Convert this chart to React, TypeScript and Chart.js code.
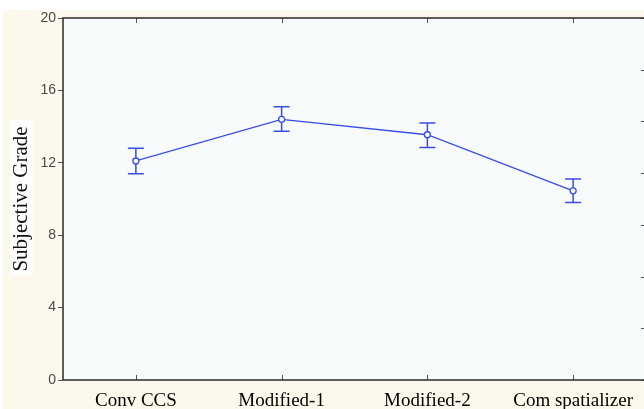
import React, { useEffect, useRef } from "react";
import { Chart, registerables } from "chart.js";

Chart.register(...registerables);

const categories = ["Conv CCS", "Modified-1", "Modified-2", "Com spatializer"];
const means = [12.1, 14.4, 13.55, 10.45];
const upper = [12.8, 15.1, 14.2, 11.1];
const lower = [11.4, 13.75, 12.85, 9.8];
const yMin = 0;
const yMax = 20;
const yStep = 4;

const CANVAS_W = 652;
const CANVAS_H = 409;
const BLUE = "#3a4de4";

const decorPlugin = {
  id: "decor",
  beforeDraw(chart: any) {
    const { ctx, chartArea } = chart;
    ctx.save();
    ctx.fillStyle = "#ffffff";
    ctx.fillRect(0, 0, chart.width, chart.height);
    ctx.fillStyle = "#fdf8ec";
    ctx.fillRect(3, 10, chart.width - 3, chart.height - 10);
    ctx.fillStyle = "#fefefc";
    ctx.fillRect(10, 120, 23, 155);
    ctx.fillStyle = "#f7fbfc";
    ctx.fillRect(chartArea.left, chartArea.top, chartArea.right - chartArea.left, chartArea.bottom - chartArea.top);
    ctx.restore();
  },
  beforeDatasetsDraw(chart: any) {
    const { ctx } = chart;
    const x = chart.scales.x;
    const y = chart.scales.y;
    ctx.save();
    ctx.strokeStyle = BLUE;
    ctx.lineWidth = 1.5;
    for (let i = 0; i < categories.length; i++) {
      const px = x.getPixelForValue(i);
      const pt = y.getPixelForValue(upper[i]);
      const pb = y.getPixelForValue(lower[i]);
      ctx.beginPath();
      ctx.moveTo(px, pt);
      ctx.lineTo(px, pb);
      ctx.moveTo(px - 8, pt);
      ctx.lineTo(px + 8, pt);
      ctx.moveTo(px - 8, pb);
      ctx.lineTo(px + 8, pb);
      ctx.stroke();
    }
    ctx.restore();
  },
  afterDraw(chart: any) {
    const { ctx, chartArea } = chart;
    const x = chart.scales.x;
    const y2 = chart.scales.y2;
    ctx.save();
    ctx.strokeStyle = "#555";
    ctx.lineWidth = 1;
    for (let i = 0; i < categories.length; i++) {
      const px = Math.round(x.getPixelForValue(i)) + 0.5;
      ctx.beginPath();
      ctx.moveTo(px, chartArea.bottom);
      ctx.lineTo(px, chartArea.bottom - 5);
      ctx.moveTo(px, chartArea.top);
      ctx.lineTo(px, chartArea.top + 5);
      ctx.stroke();
    }
    for (const t of y2.ticks) {
      const py = Math.round(y2.getPixelForValue(t.value)) + 0.5;
      ctx.beginPath();
      ctx.moveTo(chartArea.right, py);
      ctx.lineTo(chartArea.right - 5, py);
      ctx.stroke();
    }
    ctx.strokeStyle = "#2a2a2a";
    ctx.lineWidth = 1.5;
    ctx.strokeRect(chartArea.left, chartArea.top, chartArea.right - chartArea.left, chartArea.bottom - chartArea.top);
    ctx.restore();
  },
};

export default function App() {
  const ref = useRef<HTMLCanvasElement | null>(null);
  useEffect(() => {
    if (!ref.current) return;
    const chart = new Chart(ref.current, {
      type: "line",
      data: {
        labels: categories,
        datasets: [
          {
            data: means,
            borderColor: BLUE,
            borderWidth: 1.3,
            backgroundColor: "#f7fbfc",
            pointRadius: 3,
            pointBorderWidth: 1.3,
            pointBackgroundColor: "#f7fbfc",
            pointBorderColor: BLUE,
            tension: 0,
          },
        ],
      },
      options: {
        responsive: false,
        animation: false,
        devicePixelRatio: 1,
        layout: { padding: { top: 18, left: 0, right: 0, bottom: 0 } },
        plugins: { legend: { display: false }, tooltip: { enabled: false }, title: { display: false } },
        scales: {
          x: {
            type: "category",
            offset: true,
            grid: { display: false, drawTicks: false },
            border: { display: false },
            ticks: {
              padding: 10,
              color: "#000",
              font: { family: "Liberation Serif", size: 19 },
              maxRotation: 0,
              autoSkip: false,
            },
            afterFit(scale: any) {
              scale.height = 29;
            },
          },
          y: {
            min: yMin,
            max: yMax,
            position: "left",
            ticks: {
              stepSize: yStep,
              padding: 2,
              color: "#4a4a4a",
              font: { family: "Liberation Sans", size: 14 },
            },
            grid: { drawOnChartArea: false, drawTicks: true, tickLength: 5, color: "#555" },
            border: { display: false },
            title: {
              display: true,
              text: "Subjective Grade",
              color: "#111",
              font: { family: "Liberation Serif", size: 21 },
              padding: { top: 9, bottom: 0 },
            },
            afterFit(scale: any) {
              scale.width = 63;
            },
          },
          y2: {
            min: 0,
            max: 7,
            position: "right",
            ticks: { stepSize: 1, display: false },
            grid: { drawOnChartArea: false, drawTicks: false },
            border: { display: false },
            afterFit(scale: any) {
              scale.width = CANVAS_W - 646;
            },
          },
        },
      },
      plugins: [decorPlugin],
    });
    return () => chart.destroy();
  }, []);
  return (
    <div style={{ position: "absolute", left: 0, top: 0, width: 644, height: 409, overflow: "hidden" }}>
      <canvas ref={ref} width={CANVAS_W} height={CANVAS_H} style={{ width: CANVAS_W, height: CANVAS_H, display: "block" }} />
    </div>
  );
}
